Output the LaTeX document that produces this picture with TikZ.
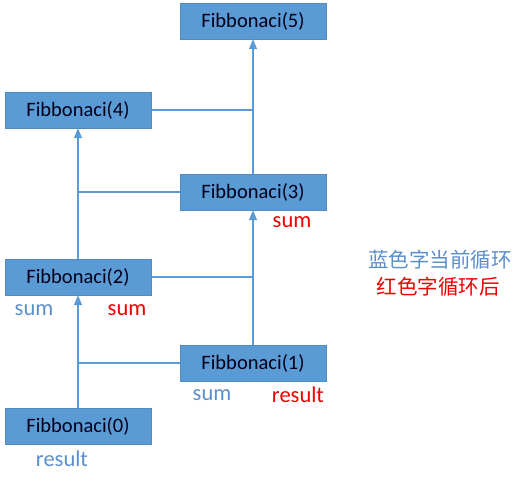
\documentclass[tikz,border=0pt]{standalone}
\usepackage{fontspec}
\setmainfont{Carlito}
\newfontfamily\cjk{Noto Sans CJK SC}
\usepackage{xcolor}
\usepackage{tikz}
\usetikzlibrary{arrows.meta}

\definecolor{boxblue}{HTML}{5B9BD5}
\definecolor{textblue}{HTML}{5B8FCB}
\definecolor{textred}{HTML}{F00000}

\begin{document}
\begin{tikzpicture}[
    x=1pt, y=-1pt,
    % Define styles for the boxes, lines and labels
    box/.style={rectangle, fill=boxblue, draw=boxblue!90!black, line width=0.4pt, text=black!90!blue,
                minimum width=146pt, minimum height=36pt, inner sep=0pt,
                font=\fontsize{20.5}{24}\selectfont},
    link/.style={draw=boxblue, line width=1.3pt},
    arrow/.style={link, -{Triangle[width=8pt,length=10pt]}},
    bluelabel/.style={text=textblue, font=\fontsize{22.5}{27}\selectfont},
    redlabel/.style={text=textred, font=\fontsize{22.5}{27}\selectfont},
    legend/.style={font=\cjk\fontsize{20.5}{25}\selectfont}
]
    \useasboundingbox (0,0) rectangle (530,485);

    % Define the boxes
    \node[box] (fib5) at (253,21) {Fibbonaci(5)};
    \node[box] (fib4) at (78,110) {Fibbonaci(4)};
    \node[box] (fib3) at (253,192) {Fibbonaci(3)};
    \node[box] (fib2) at (78,277) {Fibbonaci(2)};
    \node[box] (fib1) at (253,363) {Fibbonaci(1)};
    \node[box] (fib0) at (78,426) {Fibbonaci(0)};

    % Draw the connectors
    \draw[arrow] (fib3) -- (fib5);
    \draw[link] (fib4.east) -- (fib4.east -| fib5);

    \draw[arrow] (fib2) -- (fib4);
    \draw[link] (fib3.west) -- (fib3.west -| fib4);

    \draw[arrow] (fib1) -- (fib3);
    \draw[link] (fib2.east) -- (fib2.east -| fib3);

    \draw[arrow] (fib0) -- (fib2);
    \draw[link] (fib1.west) -- (fib1.west -| fib2);

    % Labels under the boxes
    \node[redlabel] (sum3) at (292,222) {sum};
    \node[bluelabel] (sum2) at (34,310) {sum};
    \node[redlabel] (sum2r) at (127,310) {sum};
    \node[bluelabel] (sum1) at (212,395) {sum};
    \node[redlabel] (res1) at (298,395) {result};
    \node[bluelabel] (res0) at (62,459) {result};

    % Legend
    \node[legend, text=textblue] (legblue) at (440,260) {蓝色字当前循环};
    \node[legend, text=textred] (legred) at (438,287) {红色字循环后};
\end{tikzpicture}
\end{document}
